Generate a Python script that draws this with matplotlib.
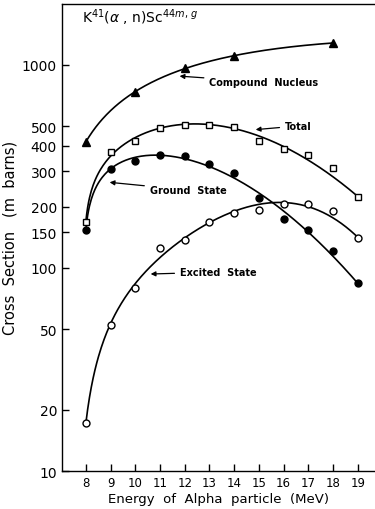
import numpy as np
import matplotlib
matplotlib.use("Agg")
import matplotlib.pyplot as plt
from matplotlib.ticker import FixedLocator, FixedFormatter, NullLocator

# Alpha energies (MeV) and cross sections (m barns)
energy = [8, 9, 10, 11, 12, 13, 14, 15, 16, 17, 18, 19]
compound_energy = [8, 10, 12, 14, 18]
compound = [418, 736, 966, 1107, 1283]
total = [169, 372, 423, 491, 506, 506, 495, 423, 387, 360, 312, 223]
ground = [154, 308, 337, 360, 357, 327, 294, 220, 174, 153, 121, 84]
excited = [17.2, 52.6, 79.4, 125, 138, 169, 187, 194, 207, 207, 190, 141]

ytick_vals = [10, 20, 50, 100, 150, 200, 300, 400, 500, 1000]
ytick_labels = ["10", "20", "50", "100", "150", "200", "300", "400", "500", "1000"]
xtick_vals = list(range(8, 20))


def smooth_fit(x, y, x0, x_new, deg=2):
    # hand-drawn style smooth curve: log(y) ~ poly(x) + d*log(x - x0)
    x = np.asarray(x, float)
    ly = np.log10(y)
    A = np.column_stack([x**k for k in range(deg + 1)] + [np.log(x - x0)])
    w = np.ones_like(x)
    w[0] = w[-1] = 3.0  # pin the ends like the drawn curves
    coef = np.linalg.lstsq(A * w[:, None], ly * w, rcond=None)[0]
    An = np.column_stack([x_new**k for k in range(deg + 1)] + [np.log(x_new - x0)])
    return 10 ** (An @ coef)


fig = plt.figure(figsize=(3.75, 5.10), dpi=100)
ax = fig.add_axes([0.165, 0.0745, 0.835, 0.916])
ax.set_yscale("log")

xs = np.linspace(8, 19, 300)
xc = np.linspace(8, 18, 300)
ax.plot(xc, smooth_fit(compound_energy, compound, 6.5, xc, deg=1), color="black", lw=1.2)
ax.plot(xs, smooth_fit(energy, total, 7.9, xs), color="black", lw=1.2)
ax.plot(xs, smooth_fit(energy, ground, 7.9, xs), color="black", lw=1.2)
ax.plot(xs, smooth_fit(energy, excited, 7.6, xs, deg=3), color="black", lw=1.2)

ax.plot(compound_energy, compound, "^", color="black", ms=6)
ax.plot(energy, total, "s", mfc="white", mec="black", mew=1.0, ms=5)
ax.plot(energy, ground, "o", color="black", ms=5)
ax.plot(energy, excited, "o", mfc="white", mec="black", mew=1.0, ms=5)

arrow = dict(arrowstyle="-|>", color="black", lw=0.9, mutation_scale=7)
txt = dict(fontsize=7, fontweight="bold", va="center", ha="left")
ax.annotate("Compound  Nucleus", xy=(11.68, 883), xytext=(13.0, 824), arrowprops=arrow, **txt)
ax.annotate("Total", xy=(14.76, 479), xytext=(16.06, 501), arrowprops=arrow, **txt)
ax.annotate("Ground  State", xy=(8.85, 265), xytext=(10.59, 242), arrowprops=arrow, **txt)
ax.annotate("Excited  State", xy=(10.51, 93.3), xytext=(11.81, 95.5), arrowprops=arrow, **txt)

ax.text(7.84, 1722, r"K$^{41}$($\alpha$ , n)Sc$^{44m,\,g}$", fontsize=10, va="center", ha="left")

ax.set_xlim(7.03, 19.7)
ax.set_ylim(10, 2000)
ax.yaxis.set_major_locator(FixedLocator(ytick_vals))
ax.yaxis.set_major_formatter(FixedFormatter(ytick_labels))
ax.yaxis.set_minor_locator(NullLocator())
ax.set_xticks(xtick_vals)
ax.tick_params(axis="y", direction="in", length=5, labelsize=10, width=1)
ax.tick_params(axis="x", direction="in", length=5, labelsize=8.5, width=1)
ax.spines["right"].set_visible(False)
for s in ["left", "bottom", "top"]:
    ax.spines[s].set_linewidth(1.0)

ax.set_xlabel("Energy  of  Alpha  particle  (MeV)", fontsize=9.5, labelpad=2)
ax.set_ylabel("Cross  Section   (m  barns)", fontsize=10.5, labelpad=3)

fig.savefig("out.png", dpi=100)
